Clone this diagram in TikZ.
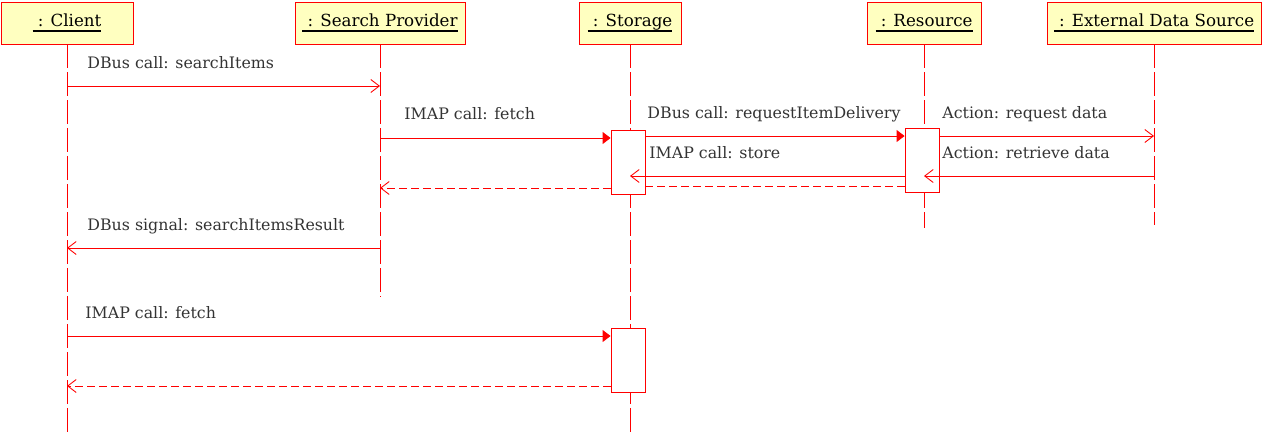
\documentclass[tikz,border=0pt]{standalone}
\usepackage{fontspec}
\setmainfont{DejaVu Serif}
\usetikzlibrary{arrows.meta}

\definecolor{objfill}{RGB}{255,255,192}
\definecolor{msgtext}{RGB}{51,51,51}
\newcommand{\objname}[1]{\setbox0=\hbox{\ #1}\rlap{\rule[-3.3pt]{\wd0}{1.3pt}}\box0}

\begin{document}
\begin{tikzpicture}[x=0.02cm,y=-0.02cm,>={Straight Barb[length=1.7mm,width=2.6mm]},line width=0.5pt]
    \tikzstyle{object}=[rectangle,draw=red,fill=objfill,minimum height=0.84cm,inner sep=0pt,font=\fontsize{9.5}{11}\selectfont]
    \tikzstyle{lifeline}=[draw=red,dash pattern=on 4.8mm off 0.8mm]
    \tikzstyle{activation}=[rectangle,draw=red,fill=white,minimum width=0.68cm,minimum height=1.28cm,inner sep=0pt]
    \tikzstyle{call}=[red,-{Triangle[length=1.6mm,width=2.4mm]}]
    \tikzstyle{signal}=[red,->]
    \tikzstyle{reply}=[red,->,dash pattern=on 1.6mm off 0.8mm]
    \tikzstyle{msg}=[anchor=base west,text=msgtext,inner sep=0pt,font=\fontsize{9}{10}\selectfont]

    \useasboundingbox (0,0) rectangle (1263,433);

    \begin{scope}
      % objects
      \node [object,minimum width=2.64cm] at (67,23)   (client)   {\objname{: Client}};
      \node [object,minimum width=3.4cm]  at (380,23)  (provider) {\objname{: Search Provider}};
      \node [object,minimum width=2.04cm] at (630,23)  (storage)  {\objname{: Storage}};
      \node [object,minimum width=2.28cm] at (924,23)  (resource) {\objname{: Resource}};
      \node [object,minimum width=4.28cm] at (1154,23) (external) {\objname{: External Data Source}};

      % lifelines
      \coordinate (clientEnd)   at (0,433);
      \coordinate (providerEnd) at (0,297);
      \coordinate (storageEnd)  at (0,433);
      \coordinate (resourceEnd) at (0,228);
      \coordinate (externalEnd) at (0,225);
      \draw [lifeline] (client.south)   -- (client.south |- clientEnd);
      \draw [lifeline] (provider.south) -- (provider.south |- providerEnd);
      \draw [lifeline] (storage.south)  -- (storage.south |- storageEnd);
      \draw [lifeline] (resource.south) -- (resource.south |- resourceEnd);
      \draw [lifeline] (external.south) -- (external.south |- externalEnd);

      \node [activation] at (628,162) (storageAct)  {};
      \node [activation] at (922,160) (resourceAct) {};
      \node [activation] at (628,360) (fetchAct)    {};

      % messages
      \coordinate (m1) at (0,86);
      \coordinate (m2) at (0,138);
      \coordinate (m3) at (0,136);
      \coordinate (m4) at (0,176);
      \coordinate (m5) at (0,186);
      \coordinate (m6) at (0,188);
      \coordinate (m7) at (0,248);
      \coordinate (m8) at (0,336);
      \coordinate (m9) at (0,386);

      \draw [signal] (client.south |- m1) -- (provider.south |- m1);
      \node [msg] at (87,68) (searchItems) {DBus call: searchItems};

      \draw [call] (provider.south |- m2) -- (storageAct.west |- m2);
      \node [msg] at (404,119) (fetch) {IMAP call: fetch};

      \draw [call] (storageAct.east |- m3) -- (resourceAct.west |- m3);
      \node [msg] at (647,118) (delivery) {DBus call: requestItemDelivery};

      \draw [signal] (resourceAct.east |- m3) -- (external.south |- m3);
      \node [msg] at (942,118) (request) {Action: request data};

      \draw [signal] (external.south |- m4) -- (resource.south |- m4);
      \node [msg] at (942,158) (retrieve) {Action: retrieve data};

      \draw [signal] (resourceAct.west |- m4) -- (storage.south |- m4);
      \node [msg] at (649,158) (store) {IMAP call: store};

      \draw [red,dash pattern=on 1.6mm off 0.8mm] (resourceAct.west |- m5) -- (storageAct.east |- m5);
      \draw [reply] (storageAct.west |- m6) -- (provider.south |- m6);

      \draw [signal] (provider.south |- m7) -- (client.south |- m7);
      \node [msg] at (87,230) (result) {DBus signal: searchItemsResult};

      \draw [call] (client.south |- m8) -- (fetchAct.west |- m8);
      \node [msg] at (85,318) (fetchAgain) {IMAP call: fetch};

      \draw [reply] (fetchAct.west |- m9) -- (client.south |- m9);
    \end{scope}

\end{tikzpicture}
\end{document}
